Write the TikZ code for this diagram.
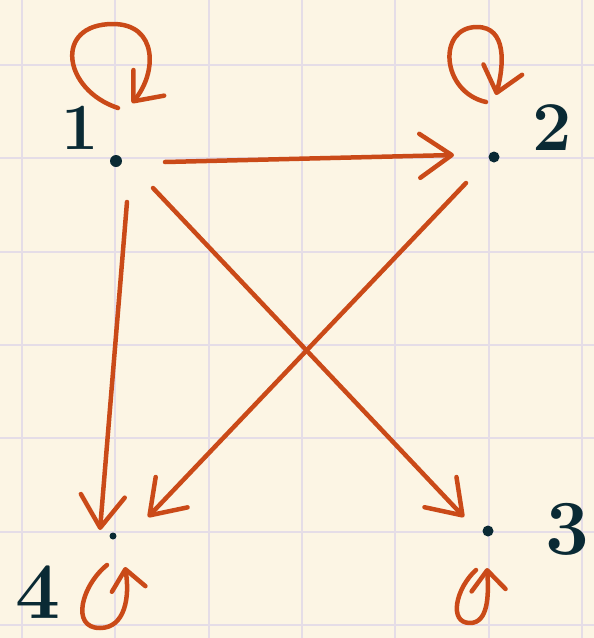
\documentclass[tikz,border=0pt]{standalone}
\usetikzlibrary{arrows.meta,calc}
\definecolor{paper}{RGB}{252,245,228}
\definecolor{gridc}{RGB}{229,221,231}
\definecolor{ink}{RGB}{202,74,24}
\definecolor{dark}{RGB}{10,42,52}
\begin{document}
\begin{tikzpicture}[x=1pt,y=-1pt,
  edge/.style={draw=ink, line width=4.5pt, line cap=round, line join=round,
    -{Straight Barb[length=32pt,width=44pt,round]}},
  selfloop/.style={draw=ink, line width=4.5pt, line cap=round, line join=round,
    -{Straight Barb[length=24pt,width=40pt,round]}},
  smallloop/.style={draw=ink, line width=4.5pt, line cap=round, line join=round,
    -{Straight Barb[length=20pt,width=34pt,round]}},
  dotnode/.style={circle, fill=dark, inner sep=0pt, minimum size=#1},
  lab/.style={text=dark, inner sep=0pt},
  gridline/.style={draw=gridc, line width=2pt}]
\fill[paper] (0,0) rectangle (594,638);
\useasboundingbox (0,0) rectangle (594,638);
\foreach \i in {0,...,6} {
  \draw[gridline] ({22+93.3*\i},0) -- ({22+93.3*\i},638);
  \draw[gridline] (0,{65+93.3*\i}) -- (594,{65+93.3*\i});
}
% vertices
\node[dotnode=12pt] (n1) at (116,161) {};
\node[dotnode=11pt] (n2) at (494,157) {};
\node[dotnode=11pt] (n3) at (488,531) {};
\node[dotnode=7pt] (n4) at (113,536) {};
% labels
\node[lab, font=\fontsize{66}{66}\bfseries\selectfont] (l1) at (80,128) {1};
\node[lab, font=\fontsize{70}{70}\bfseries\selectfont] (l2) at (552,128) {2};
\node[lab, font=\fontsize{78}{78}\bfseries\selectfont] (l3) at (567,529) {3};
\node[lab, font=\fontsize{80}{80}\bfseries\selectfont] (l4) at (38,592) {4};
% edges
\draw[edge] ([shift={(49,1)}]n1.center) -- ([shift={(-40,-2)}]n2.center);
\draw[edge] ([shift={(11,41)}]n1.center) -- ([shift={(-13,-6)}]n4.center);
\draw[edge] ([shift={(37,27)}]n1.center) -- ([shift={(-24,-14)}]n3.center);
\draw[edge] ([shift={(-28,26)}]n2.center) -- ([shift={(35,-19)}]n4.center);
% self loops
\coordinate (s1) at (118,108); \coordinate (t1) at (113,24); \coordinate (e1) at (132,103);
\draw[selfloop] (s1) .. controls +(-55,-18) and +(-60,0) .. (t1)
  .. controls +(45,0) and +(25,-30) .. (e1);
\coordinate (s2) at (486,102); \coordinate (t2) at (477,27); \coordinate (e2) at (496,95);
\draw[selfloop] (s2) .. controls +(-45,-10) and +(-40,0) .. (t2)
  .. controls +(30,0) and +(8,-30) .. (e2);
\coordinate (s4) at (107,565); \coordinate (t4) at (100,628); \coordinate (e4) at (125,567);
\draw[smallloop] (s4) .. controls +(-25,20) and +(-30,0) .. (t4)
  .. controls +(25,0) and +(5,30) .. (e4);
\coordinate (s3) at (476,570); \coordinate (t3) at (470,623); \coordinate (e3) at (487,568);
\draw[smallloop] (s3) .. controls +(-20,18) and +(-22,0) .. (t3)
  .. controls +(18,0) and +(2,28) .. (e3);
\end{tikzpicture}
\end{document}
